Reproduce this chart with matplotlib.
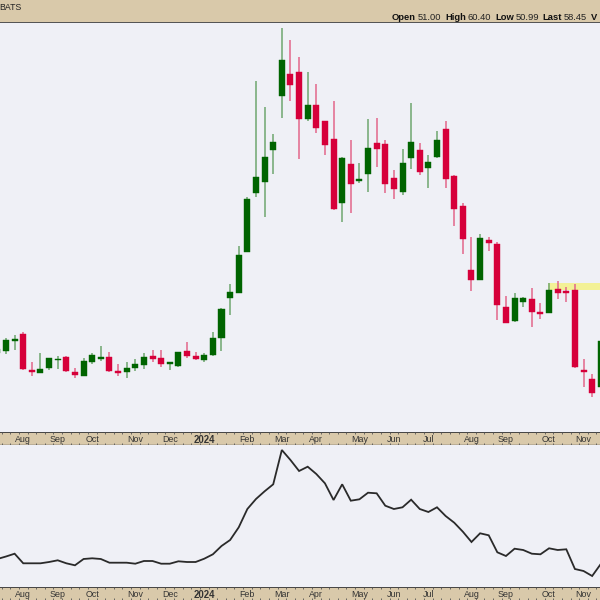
import matplotlib
matplotlib.use('Agg')
import matplotlib.pyplot as plt
from matplotlib.patches import Rectangle
import numpy as np
import pandas as pd

# ---------------- data (weekly bars) ----------------
start_week = '2023-07-17'
opens = [56.51, 56.83, 58.45, 59.59, 53.75, 53.27, 54.08, 55.37, 55.86, 53.43,
         52.78, 55.05, 55.54, 55.86, 53.59, 53.43, 54.08, 54.56, 56.02, 55.70,
         54.73, 54.40, 56.83, 56.02, 55.37, 56.19, 58.94, 65.42, 66.23, 72.88,
         82.44, 84.22, 89.41, 98.16, 101.73, 102.05, 94.43, 96.70, 94.11, 91.19,
         80.82, 87.14, 84.39, 85.52, 90.54, 90.38, 84.87, 82.60, 88.11, 89.41,
         86.49, 88.28, 92.81, 85.20, 80.33, 69.96, 68.34, 74.82, 74.17, 63.96,
         61.70, 64.77, 65.26, 63.15, 62.99, 66.88, 66.56, 66.72, 53.75, 52.30,
         51.00]
highs = [57.64, 58.94, 59.43, 59.91, 55.05, 56.51, 55.70, 56.02, 56.02, 54.08,
         55.70, 56.51, 57.64, 56.67, 54.73, 55.05, 55.54, 56.51, 57.00, 57.00,
         55.05, 56.67, 58.29, 56.67, 56.51, 59.91, 63.80, 67.69, 73.85, 81.79,
         100.59, 96.38, 92.00, 109.18, 107.24, 104.48, 102.05, 100.11, 94.11, 97.35,
         88.28, 91.03, 87.30, 94.43, 94.60, 91.03, 86.17, 89.57, 97.03, 90.54,
         88.60, 92.49, 94.11, 85.36, 80.82, 75.31, 75.80, 75.31, 74.50, 65.75,
         66.23, 65.59, 67.04, 64.61, 67.85, 68.18, 67.21, 67.69, 55.54, 53.11,
         60.40]
lows = [56.19, 56.35, 57.00, 53.75, 52.78, 53.27, 53.75, 53.92, 53.43, 52.46,
        52.78, 54.73, 55.21, 53.43, 52.78, 52.46, 53.59, 53.92, 55.05, 54.24,
        53.75, 54.24, 55.70, 55.37, 55.05, 56.02, 56.83, 62.67, 66.23, 72.88,
        81.79, 78.55, 85.52, 94.60, 97.35, 87.95, 94.11, 92.16, 88.60, 79.69,
        77.74, 79.20, 84.06, 82.60, 86.65, 82.44, 81.47, 82.12, 86.33, 85.36,
        83.25, 88.11, 83.25, 77.09, 72.55, 66.56, 68.34, 73.04, 61.86, 61.37,
        61.53, 63.96, 60.72, 62.02, 62.99, 65.26, 64.77, 54.08, 51.00, 49.38,
        50.99]
closes = [57.16, 58.62, 58.78, 53.92, 53.43, 53.92, 55.70, 55.54, 53.59, 52.94,
          55.21, 56.19, 55.86, 53.59, 53.27, 54.08, 54.73, 55.86, 55.54, 54.73,
          55.05, 56.67, 56.02, 55.54, 56.19, 58.94, 63.64, 66.40, 72.39, 81.47,
          85.03, 88.28, 90.71, 104.00, 99.94, 94.43, 96.70, 92.98, 90.22, 79.85,
          88.11, 83.90, 84.71, 89.73, 89.57, 83.90, 83.09, 87.30, 90.71, 85.84,
          87.46, 91.03, 84.71, 79.85, 74.99, 68.34, 75.15, 74.34, 64.29, 61.37,
          65.42, 65.42, 63.15, 62.83, 66.72, 66.23, 66.23, 54.24, 53.43, 50.03,
          58.45]
# lower panel line (relative strength, arbitrary units)
rs_line = [28.0, 30.5, 33.3, 23.7, 23.7, 23.7, 25.0, 26.7, 23.7, 21.7,
           28.0, 28.7, 28.0, 24.3, 24.3, 24.3, 23.3, 26.0, 26.0, 23.3,
           23.3, 25.7, 25.0, 25.0, 28.3, 32.7, 41.0, 47.0, 59.7, 78.0,
           88.0, 95.7, 102.7, 137.0, 127.0, 116.0, 120.3, 113.0, 103.7, 87.0,
           102.7, 86.3, 87.7, 94.3, 93.7, 81.3, 78.0, 79.7, 87.3, 78.0,
           75.0, 79.7, 71.0, 64.3, 55.3, 45.0, 53.7, 51.7, 34.7, 31.0,
           38.3, 37.0, 33.3, 32.7, 38.7, 37.0, 37.7, 18.0, 16.0, 11.0,
           23.0]
header_symbol = 'BATS'
header_quote = [('Open', '51.00'), ('High', '60.40'), ('Low', '50.99'),
                ('Last', '58.45'), ('V', '')]
highlight_price = (66.72, 67.85)
highlight_from_bar = 63.88

# ---------------- styles ----------------
BG = '#eff0f6'
TAN = '#d9c9aa'
GREEN = '#006400'
RED = '#d6003a'
GREEN_WICK = '#6fa66f'
RED_WICK = '#e2668a'
FONT = 'Liberation Sans'

n = len(closes)
idx = np.arange(n)
dates = pd.date_range(start_week, periods=n, freq='W-MON')

fig = plt.figure(figsize=(6, 6), dpi=100)
fig.patch.set_facecolor(BG)

H = 600.0
def fy(y):
    return 1 - y / H

x0, x1 = 0.304, 69.91

# header band
fig.patches.append(Rectangle((0, fy(22)), 1, 22 / H, transform=fig.transFigure,
                             facecolor=TAN, edgecolor='none', zorder=0))
fig.patches.append(Rectangle((0, fy(23.2)), 1, 1.4 / H, transform=fig.transFigure,
                             facecolor='#555555', edgecolor='none', zorder=1))
fig.text(-0.002, fy(8), header_symbol, fontsize=6.3, family=FONT, color='#222222',
         va='center', ha='left')

# main price panel
ax = fig.add_axes([0, fy(432), 1, (432 - 23.5) / H])
ax.set_facecolor(BG)
w = 0.70
for i in idx:
    o, h, l, c = opens[i], highs[i], lows[i], closes[i]
    up = c >= o
    col = GREEN if up else RED
    wcol = GREEN_WICK if up else RED_WICK
    ax.vlines(i, l, h, color=wcol, linewidth=1.1, zorder=2)
    lo, hi = min(o, c), max(o, c)
    ax.add_patch(Rectangle((i - w / 2, lo), w, max(hi - lo, 0.25),
                           facecolor=col, edgecolor=col, linewidth=0.3, zorder=3))
ax.axhspan(highlight_price[0], highlight_price[1], xmin=(highlight_from_bar - x0) / (x1 - x0),
           xmax=1, color='#f4f28c', alpha=0.9, zorder=1, linewidth=0)
ax.set_xlim(x0, x1)
ax.set_ylim(43.71, 109.99)
ax.set_xticks([]); ax.set_yticks([])
for s in ax.spines.values():
    s.set_visible(False)

# lower panel
ax2 = fig.add_axes([0, fy(587), 1, (587 - 445) / H])
ax2.set_facecolor(BG)
ax2.plot(idx, rs_line, color='#2a2a2a', linewidth=1.3, solid_joinstyle='miter')
ax2.set_xlim(x0, x1)
ax2.set_ylim(0, 142)
ax2.set_xticks([]); ax2.set_yticks([])
for s in ax2.spines.values():
    s.set_visible(False)

# month labels
tick_pos, tick_lab = [], []
for i in range(1, n):
    if dates[i].month != dates[i - 1].month:
        tick_pos.append(i)
        tick_lab.append(str(dates[i].year) if dates[i].month == 1 else dates[i].strftime('%b'))

def date_band(ytop, ybot):
    b = fig.add_axes([0, fy(ybot), 1, (ybot - ytop) / H])
    b.set_facecolor(TAN)
    b.set_xlim(x0, x1)
    b.set_ylim(0, 1)
    b.set_xticks([]); b.set_yticks([])
    for s in b.spines.values():
        s.set_visible(False)
    b.axhline(1, color='#444444', linewidth=1.4)
    b.axhline(0, color='#444444', linewidth=1.0)
    for i in idx:
        b.vlines(i + 0.5, 0.82, 1.0, color='#555555', linewidth=0.6)
        b.vlines(i + 0.5, 0.0, 0.15, color='#555555', linewidth=0.6)
    for p, lab in zip(tick_pos, tick_lab):
        bold = lab.isdigit()
        b.text(p, 0.42, lab, ha='center', va='center', fontsize=6.4 if not bold else 6.9,
               family=FONT, color='#333333', fontweight='bold' if bold else 'normal')
    return b

date_band(432, 445)
date_band(587, 600.5)

# header quote line (mixed weights)
fig.canvas.draw()
r = fig.canvas.get_renderer()
xpos = 392 / 600.0
for lab, val in header_quote:
    t = fig.text(xpos, fy(17.5), lab, fontsize=6.75, family=FONT, fontweight='bold',
                 color='#111111', va='center', ha='left')
    xpos = t.get_window_extent(r).x1 / 600.0 + 2 / 600.0
    if val:
        t2 = fig.text(xpos, fy(17.5), val, fontsize=6.75, family=FONT, color='#222222',
                      va='center', ha='left')
        xpos = t2.get_window_extent(r).x1 / 600.0 + 3.5 / 600.0

fig.savefig('out.png', dpi=100, facecolor=fig.get_facecolor())
